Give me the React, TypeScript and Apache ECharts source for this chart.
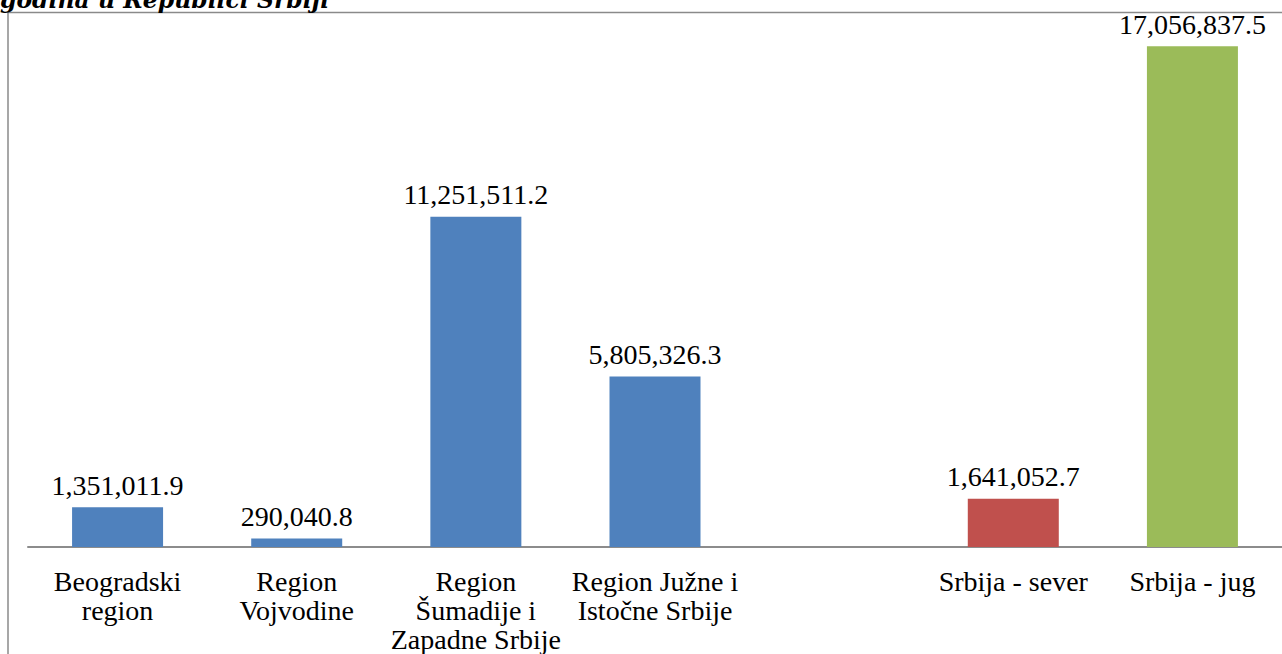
import React, { useEffect, useRef } from "react";
import * as echarts from "echarts";

const categories = [
  "Beogradski\nregion",
  "Region\nVojvodine",
  "Region\nŠumadije i\nZapadne Srbije",
  "Region Južne i\nIstočne Srbije",
  "",
  "Srbija - sever",
  "Srbija - jug",
];
const values: (number | null)[] = [1351011.9, 290040.8, 11251511.2, 5805326.3, null, 1641052.7, 17056837.5];
const colors = ["#4F81BD", "#4F81BD", "#4F81BD", "#4F81BD", "#4F81BD", "#C0504D", "#9BBB59"];
const titleText = "godina u Republici Srbiji";

const fmt = (v: number) =>
  v.toLocaleString("en-US", { minimumFractionDigits: 1, maximumFractionDigits: 1 });

export default function App() {
  const ref = useRef<HTMLDivElement>(null);
  useEffect(() => {
    if (!ref.current) return;
    const chart = echarts.init(ref.current, null, { renderer: "svg" });
    chart.setOption({
      animation: false,
      backgroundColor: "#ffffff",
      grid: { left: 28, right: 0, top: 18.5, bottom: 107, containLabel: false },
      xAxis: {
        type: "category",
        data: categories,
        axisTick: { show: false },
        axisLine: { lineStyle: { color: "#8c8c8c", width: 2 } },
        axisLabel: {
          interval: 0,
          margin: 20,
          fontFamily: "Liberation Serif",
          fontSize: 28,
          lineHeight: 29,
          color: "#000000",
        },
      },
      yAxis: {
        type: "value",
        min: 0,
        max: 18000000,
        show: false,
        splitLine: { show: false },
      },
      series: [
        {
          type: "bar",
          barWidth: 91,
          data: values.map((v, i) => ({
            value: v,
            itemStyle: { color: colors[i] },
          })),
          label: {
            show: true,
            position: "top",
            distance: 8,
            fontFamily: "Liberation Serif",
            fontSize: 28,
            color: "#000000",
            formatter: (p: any) => (p.value == null ? "" : fmt(p.value)),
          },
        },
      ],
      graphic: [
        {
          type: "line",
          shape: { x1: 8, y1: 12.5, x2: 1282, y2: 12.5 },
          style: { stroke: "#8a8a8a", lineWidth: 1.5 },
          z: 10,
        },
        {
          type: "line",
          shape: { x1: 8, y1: 12, x2: 8, y2: 654 },
          style: { stroke: "#8a8a8a", lineWidth: 1.5 },
          z: 10,
        },
        {
          type: "text",
          x: 0,
          y: 11.5,
          style: {
            text: titleText,
            fontFamily: "DejaVu Serif",
            fontStyle: "italic",
            fontWeight: "bold",
            fontSize: 23.5,
            fill: "#000000",
            verticalAlign: "bottom",
          },
          z: 11,
        },
      ],
    });
    return () => chart.dispose();
  }, []);
  return (
    <div
      ref={ref}
      style={{ position: "fixed", left: 0, top: 0, width: 1282, height: 654 }}
    />
  );
}
